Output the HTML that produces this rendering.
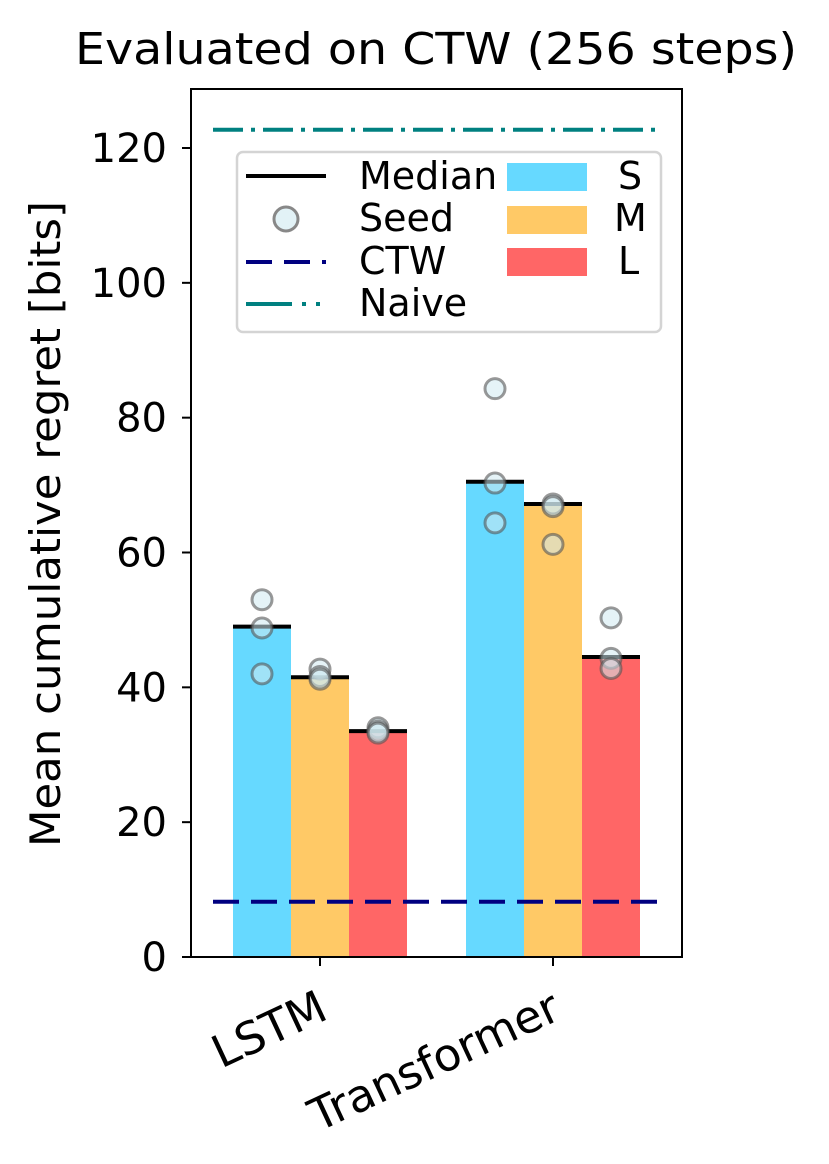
<!DOCTYPE html>
<html><head><meta charset="utf-8"><style>
body{margin:0;background:#fff}
svg{display:block;font-family:"DejaVu Sans","Liberation Sans",sans-serif}
</style></head><body>
<svg id="chart" width="829" height="1164" viewBox="0 0 829 1164">
<text x="436" y="64" font-size="44" text-anchor="middle" textLength="722" lengthAdjust="spacingAndGlyphs">Evaluated on CTW (256 steps)</text>
<g id="plot"></g>
<text transform="translate(60,524) rotate(-90)" font-size="42" text-anchor="middle" textLength="646" lengthAdjust="spacingAndGlyphs">Mean cumulative regret [bits]</text>
<rect x="191" y="89" width="491" height="868" fill="none" stroke="#000" stroke-width="2"/>
<g>
<rect x="237" y="152" width="424" height="180" rx="6" fill="#fff" fill-opacity="0.8" stroke="#d4d4d4" stroke-width="2.5"/>
<line x1="246" y1="176" x2="326" y2="176" stroke="#000" stroke-width="4"/>
<text x="359" y="189" font-size="38">Median</text>
<circle cx="286" cy="219" r="12" fill="#cfe9f0" fill-opacity="0.6" stroke="#888" stroke-width="3"/>
<text x="359" y="231" font-size="38">Seed</text>
<line x1="246" y1="262" x2="326" y2="262" stroke="#000080" stroke-width="4" stroke-dasharray="26,12"/>
<text x="359" y="274" font-size="38">CTW</text>
<line x1="246" y1="304" x2="326" y2="304" stroke="#008080" stroke-width="4" stroke-dasharray="46,10,4,10,4,8"/>
<text x="359" y="316" font-size="38">Naive</text>
<rect x="507" y="163" width="80" height="28" fill="#66d9ff"/>
<text x="618" y="189" font-size="38">S</text>
<rect x="507" y="206" width="80" height="28" fill="#ffc966"/>
<text x="614" y="231" font-size="38">M</text>
<rect x="507" y="248" width="80" height="28" fill="#ff6666"/>
<text x="618" y="274" font-size="38">L</text>
</g>
</svg>
<script>
const categories = ["LSTM", "Transformer"];
const sizes = ["S", "M", "L"];
const medians = [[49, 41.5, 33.5], [70.5, 67.2, 44.5]];
const seeds = [
  [[53, 48.8, 42], [42.7, 41.6, 41.2], [34, 33.5, 33.2]],
  [[84.3, 70.3, 64.4], [67.2, 66.8, 61.2], [50.3, 44.3, 42.8]]
];
const ctwValue = 8.2;
const naiveValue = 122.7;
const yTicks = [0, 20, 40, 60, 80, 100, 120];

const colors = ["#66d9ff", "#ffc966", "#ff6666"];
const NS = "http://www.w3.org/2000/svg";
const g = document.getElementById("plot");
const y = v => 957 - v * (809 / 120);
const catX = i => 320 + i * 233;
const barW = 58;
function mk(tag, attrs, parent) {
  const e = document.createElementNS(NS, tag);
  for (const k in attrs) e.setAttribute(k, attrs[k]);
  (parent || g).appendChild(e);
  return e;
}
yTicks.forEach(t => {
  const l = mk("line", {x1: 182, x2: 191, y1: y(t), y2: y(t), stroke: "#000", "stroke-width": 2});
  
  
  const tx = mk("text", {x: 167, y: y(t) + 14, "font-size": 40, "text-anchor": "end"});
  tx.textContent = t;
  
  
});
categories.forEach((c, i) => {
  const cx = catX(i);
  sizes.forEach((s, j) => {
    const x0 = cx - 1.5 * barW + j * barW;
    const b = mk("rect", {x: x0, y: y(medians[i][j]), width: barW, height: y(0) - y(medians[i][j]), fill: colors[j]});
    
    
    const m = mk("line", {x1: x0, x2: x0 + barW, y1: y(medians[i][j]), y2: y(medians[i][j]), stroke: "#000", "stroke-width": 4});
    
    
    seeds[i][j].forEach(v => {
      const p = mk("circle", {cx: x0 + barW / 2, cy: y(v), r: 10, fill: "#cfe9f0", "fill-opacity": 0.55, stroke: "#555", "stroke-opacity": 0.6, "stroke-width": 3});
      
      
    });
  });
  const t = mk("line", {x1: cx, x2: cx, y1: 957, y2: 966, stroke: "#000", "stroke-width": 2});
  
  
  const lab = mk("text", {x: cx + 10, y: 1018, "font-size": 45, "text-anchor": "end", transform: `rotate(-25 ${cx + 10} 1018)`});
  lab.textContent = c;
  
  
});
const ctw = mk("line", {x1: 213, x2: 660, y1: y(ctwValue), y2: y(ctwValue), stroke: "#000080", "stroke-width": 4, "stroke-dasharray": "26,12"});


const nv = mk("line", {x1: 213, x2: 660, y1: y(naiveValue), y2: y(naiveValue), stroke: "#008080", "stroke-width": 4, "stroke-dasharray": "30,8,4,8"});


</script>
</body></html>
